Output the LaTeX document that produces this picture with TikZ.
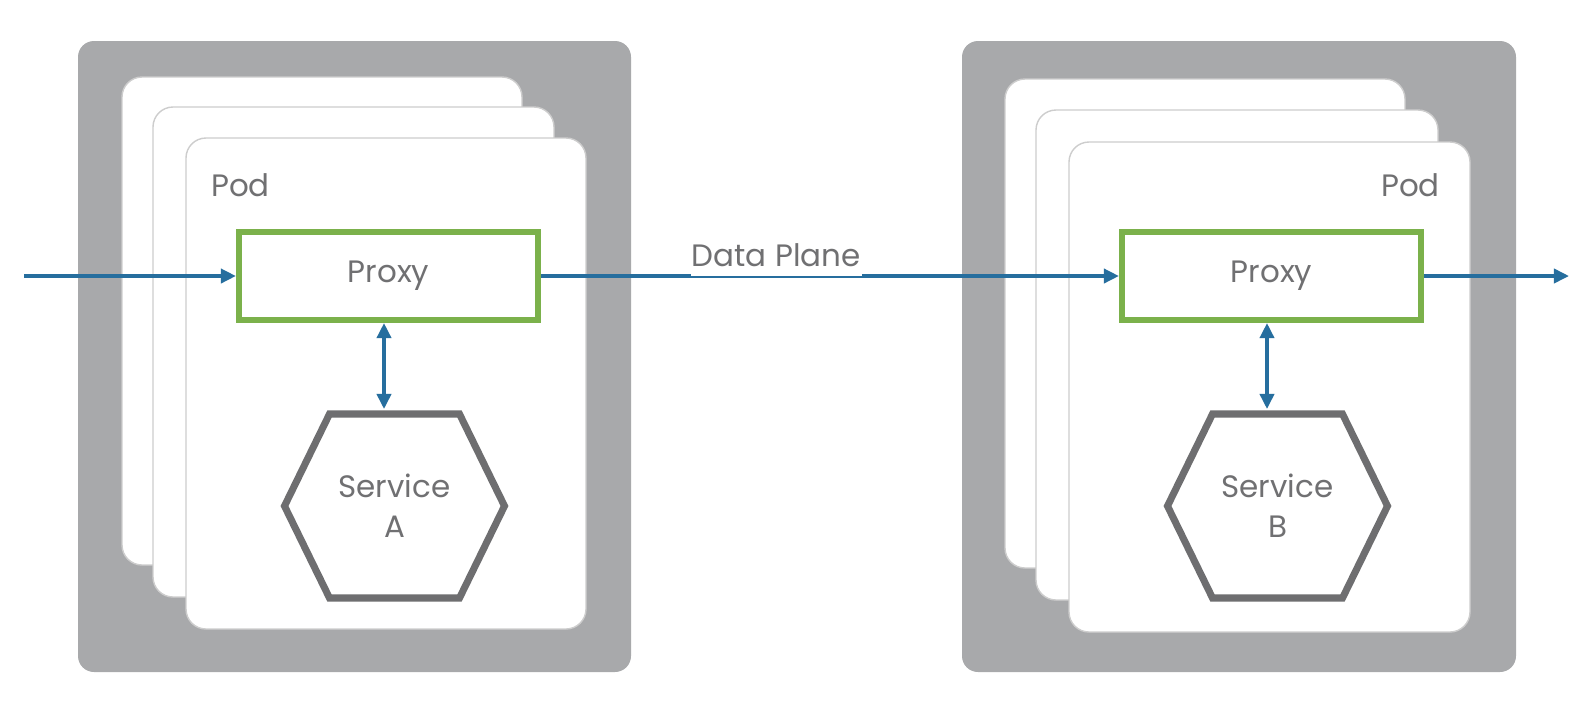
\documentclass[tikz,border=0pt]{standalone}
\usepackage{fontspec}
\setmainfont{Poppins}
\usetikzlibrary{arrows.meta,calc}

\definecolor{podgray}{RGB}{168,169,171}
\definecolor{cardline}{RGB}{205,205,205}
\definecolor{proxygreen}{RGB}{123,177,75}
\definecolor{flowblue}{RGB}{38,110,158}
\definecolor{hexgray}{RGB}{110,110,112}
\definecolor{textgray}{RGB}{112,112,114}
\newcommand{\diafont}{\fontsize{22}{28.5}\selectfont}

\begin{document}
\begin{tikzpicture}[x=0.025cm, y=-0.025cm]
  \useasboundingbox (0,0) rectangle (1592,706);  % Bildrahmen.
  \tikzstyle{host}=[fill=podgray, rounded corners=0.4cm]
  \tikzstyle{pod}=[fill=white, draw=cardline, line width=1pt, rounded corners=0.5cm]
  \tikzstyle{podlabel}=[text=textgray, font=\diafont, inner sep=0pt]
  \tikzstyle{proxy}=[draw=proxygreen, line width=4.3pt, fill=white, text=textgray, font=\diafont,
                     minimum width=7.475cm, minimum height=2.2cm]
  \tikzstyle{service}=[text=textgray, font=\diafont, align=center, inner sep=0pt]
  \tikzstyle{hexline}=[draw=hexgray, line width=5pt, line join=miter]
  \tikzstyle{flow}=[draw=flowblue, line width=2.5pt, -{Triangle[length=10.7pt, width=10pt]}]
  \tikzstyle{biflow}=[flow, {Triangle[length=10.7pt, width=10pt]}-{Triangle[length=10.7pt, width=10pt]}]

  \fill[host] (78,41)  rectangle (631,672);
  \draw[pod]  (122,77) rectangle (522,565);
  \draw[pod]  (153,107) rectangle (554,597);
  \draw[pod]  (186,138) rectangle (586,629);
  \node[podlabel, anchor=base west] (podA) at (211,196) {Pod};

  \fill[host] (962,41)  rectangle (1516,672);
  \draw[pod]  (1005,79) rectangle (1405,568);
  \draw[pod]  (1036,110) rectangle (1438,600);
  \draw[pod]  (1069,142) rectangle (1470,632);
  \node[podlabel, anchor=base east] (podB) at (1440,196) {Pod};

  \node[proxy] (proxyA) at (388.5,276)  {Proxy};
  \node[proxy] (proxyB) at (1271.5,276) {Proxy};

  \node[service] (svcA) at (394.5,506)  {Service\\A};
  \node[service] (svcB) at (1277.5,506) {Service\\B};
  \draw[hexline] ($(svcA)+(-110,0)$) -- ++(45,-92) -- ++(130,0) -- ++(45,92)
                 -- ++(-45,92) -- ++(-130,0) -- cycle;
  \draw[hexline] ($(svcB)+(-110,0)$) -- ++(45,-92) -- ++(130,0) -- ++(45,92)
                 -- ++(-45,92) -- ++(-130,0) -- cycle;

  \coordinate (inA)  at (24,276);
  \coordinate (outB) at (1569,276);
  \coordinate (topA) at (384,409);
  \coordinate (topB) at (1267,409);

  \draw[flow] (inA) -- (proxyA);
  \draw[flow] (proxyA) -- node[pos=0.407, anchor=base, yshift=7.1pt, fill=white, text=textgray,
                               font=\diafont, inner xsep=1pt, inner ysep=6.6pt] {Data Plane} (proxyB);
  \draw[flow] (proxyB) -- (outB);
  \draw[biflow] (proxyA.south -| topA) -- (topA);
  \draw[biflow] (proxyB.south -| topB) -- (topB);
\end{tikzpicture}
\end{document}
